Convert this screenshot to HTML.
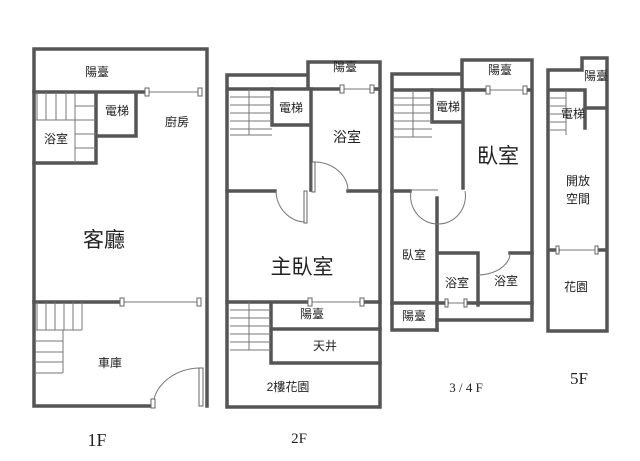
<!DOCTYPE html>
<html><head><meta charset="utf-8"><style>
html,body{margin:0;padding:0;background:#fff;width:640px;height:461px;overflow:hidden}
svg{display:block}
text{font-family:"Liberation Sans","Noto Sans CJK TC",sans-serif;fill:#222}
.w{stroke:#555;stroke-width:3.5;fill:none;stroke-linecap:square}
.t{stroke:#777;stroke-width:1;fill:none}
.win{fill:#fff;stroke:#666;stroke-width:1}
</style></head><body>
<svg width="640" height="461" viewBox="0 0 640 461">
<!-- 1F -->
<path class="w" d="M152,406 H34 V49 H207 V406"/>
<path class="w" d="M34,92 H147 M96,92 V163 M34,163 H96 M96,136 H136 V92 M34,302 H122"/>
<path class="t" d="M147,92 H200 M122,302 H200"/>
<rect class="win" x="145" y="88" width="4" height="8"/><rect class="win" x="198" y="88" width="4" height="8"/>
<rect class="win" x="120" y="298" width="4" height="8"/><rect class="win" x="197" y="298" width="4" height="8"/>
<path class="t" d="M37,92 V120 M46,92 V120 M56,92 V120 M66,92 V120 M36,120 H75 M75,92 V163 M75,106 H96 M75,120 H96 M75,134 H96 M75,148 H96"/>
<path class="t" d="M37,302 V330 M46,302 V330 M55,302 V330 M64,302 V330 M73,302 V330 M82,302 V330 M36,330 H82 M63,330 V373 M36,373 H63 M36,341 H63 M36,352 H63 M36,362 H63"/>
<path class="t" d="M153,404 A48,40 0 0 1 201,368"/>
<rect class="win" x="199" y="368" width="4" height="38"/><rect class="win" x="151" y="399" width="4" height="9"/>
<text x="97" y="76" font-size="12" text-anchor="middle">陽臺</text>
<text x="117" y="115" font-size="12" text-anchor="middle">電梯</text>
<text x="56" y="143" font-size="12" text-anchor="middle">浴室</text>
<text x="177" y="126" font-size="12" text-anchor="middle">廚房</text>
<text x="104" y="247" font-size="21" text-anchor="middle">客廳</text>
<text x="110" y="367" font-size="12" text-anchor="middle">車庫</text>
<text x="97" y="446" font-size="18" style="font-family:'Liberation Serif',serif" text-anchor="middle">1F</text>
<!-- 2F -->
<path class="w" d="M308,75 H227 V407 H380 V62 H308 V89 M227,89 H342 M372,89 H380"/>
<path class="w" d="M272,89 V125 H311 M311,89 V190 M348,191 H380 M227,191 H275 M227,302 H310 M362,302 H380 M271,302 V363 H380 M271,329 H380"/>
<path class="t" d="M342,89 H372 M310,302 H362"/>
<rect class="win" x="340" y="85" width="4" height="8"/><rect class="win" x="370" y="85" width="4" height="8"/>
<rect class="win" x="308" y="298" width="4" height="8"/><rect class="win" x="360" y="298" width="4" height="8"/>
<path class="t" d="M230,97 H272 M230,105 H272 M230,113 H272 M230,121 H272 M230,129 H272 M230,135 H272 M249,89 V135"/>
<path class="t" d="M230,310 H271 M230,318 H271 M230,326 H271 M230,334 H271 M230,342 H271 M230,350 H271 M249,302 V350"/>
<path class="t" d="M314,162 A34,29 0 0 1 348,191 M276,191 A30,32 0 0 0 306,222"/>
<rect class="win" x="312" y="162" width="3" height="30"/><rect class="win" x="304" y="191" width="3" height="32"/>
<text x="345" y="71" font-size="12" text-anchor="middle">陽臺</text>
<text x="291" y="112" font-size="12" text-anchor="middle">電梯</text>
<text x="347" y="142" font-size="14" text-anchor="middle">浴室</text>
<text x="302" y="274" font-size="21" text-anchor="middle">主臥室</text>
<text x="312" y="318" font-size="12" text-anchor="middle">陽臺</text>
<text x="325" y="350" font-size="12" text-anchor="middle">天井</text>
<text x="288" y="391" font-size="12" text-anchor="middle">2樓花園</text>
<text x="299" y="443" font-size="15" style="font-family:'Liberation Serif',serif" text-anchor="middle">2F</text>
<!-- 3/4F -->
<path class="w" d="M462,74 H392 V330 H437 M462,90 V60 H532 V320 H437 M392,90 H488 M525,90 H532"/>
<path class="w" d="M432,90 V122 H463 M463,90 V188 M392,191 H410 M437,198 V330 M440,253 H478 V305 M510,253 H532 M392,303 H447 M466,303 H532"/>
<path class="t" d="M488,90 H525 M447,303 H466"/>
<rect class="win" x="486" y="86" width="4" height="8"/><rect class="win" x="523" y="86" width="4" height="8"/>
<rect class="win" x="445" y="299" width="3" height="8"/><rect class="win" x="464" y="299" width="3" height="8"/>
<path class="t" d="M394,98 H432 M394,105 H432 M394,113 H432 M394,121 H432 M394,129 H432 M394,137 H432 M413,90 V137"/>
<path class="t" d="M411,191 A27,28 0 0 0 438,224 A27,28 0 0 0 465,191 M411,190 H438 M478,275 A33,22 0 0 0 510,253"/>
<text x="448" y="111" font-size="12" text-anchor="middle">電梯</text>
<text x="498" y="163" font-size="21" text-anchor="middle">臥室</text>
<text x="414" y="259" font-size="12" text-anchor="middle">臥室</text>
<text x="457" y="287" font-size="12" text-anchor="middle">浴室</text>
<text x="506" y="285" font-size="12" text-anchor="middle">浴室</text>
<text x="414" y="320" font-size="12" text-anchor="middle">陽臺</text>
<text x="500" y="74" font-size="12" text-anchor="middle">陽臺</text>
<text x="466" y="392" font-size="13" style="font-family:'Liberation Serif',serif" text-anchor="middle">3 / 4 F</text>
<!-- 5F -->
<path class="w" d="M580,70 H548 V331 H607 V58 H582 V70 M548,90 H585 V128 M585,108 H607 M548,250 H558 M597,250 H607"/>
<path class="t" d="M558,250 H597 M550,98 H566 M550,106 H566 M550,114 H566 M550,122 H566 M550,130 H566 M566,90 V135"/>
<rect class="win" x="556" y="246" width="3" height="8"/><rect class="win" x="595" y="246" width="3" height="8"/>
<text x="596" y="80" font-size="12" text-anchor="middle">陽臺</text>
<text x="573" y="118" font-size="12" text-anchor="middle">電梯</text>
<text x="578" y="185" font-size="12" text-anchor="middle">開放</text>
<text x="578" y="203" font-size="12" text-anchor="middle">空間</text>
<text x="576" y="291" font-size="12" text-anchor="middle">花園</text>
<text x="579" y="384" font-size="17" style="font-family:'Liberation Serif',serif" text-anchor="middle">5F</text>
</svg>
</body></html>
